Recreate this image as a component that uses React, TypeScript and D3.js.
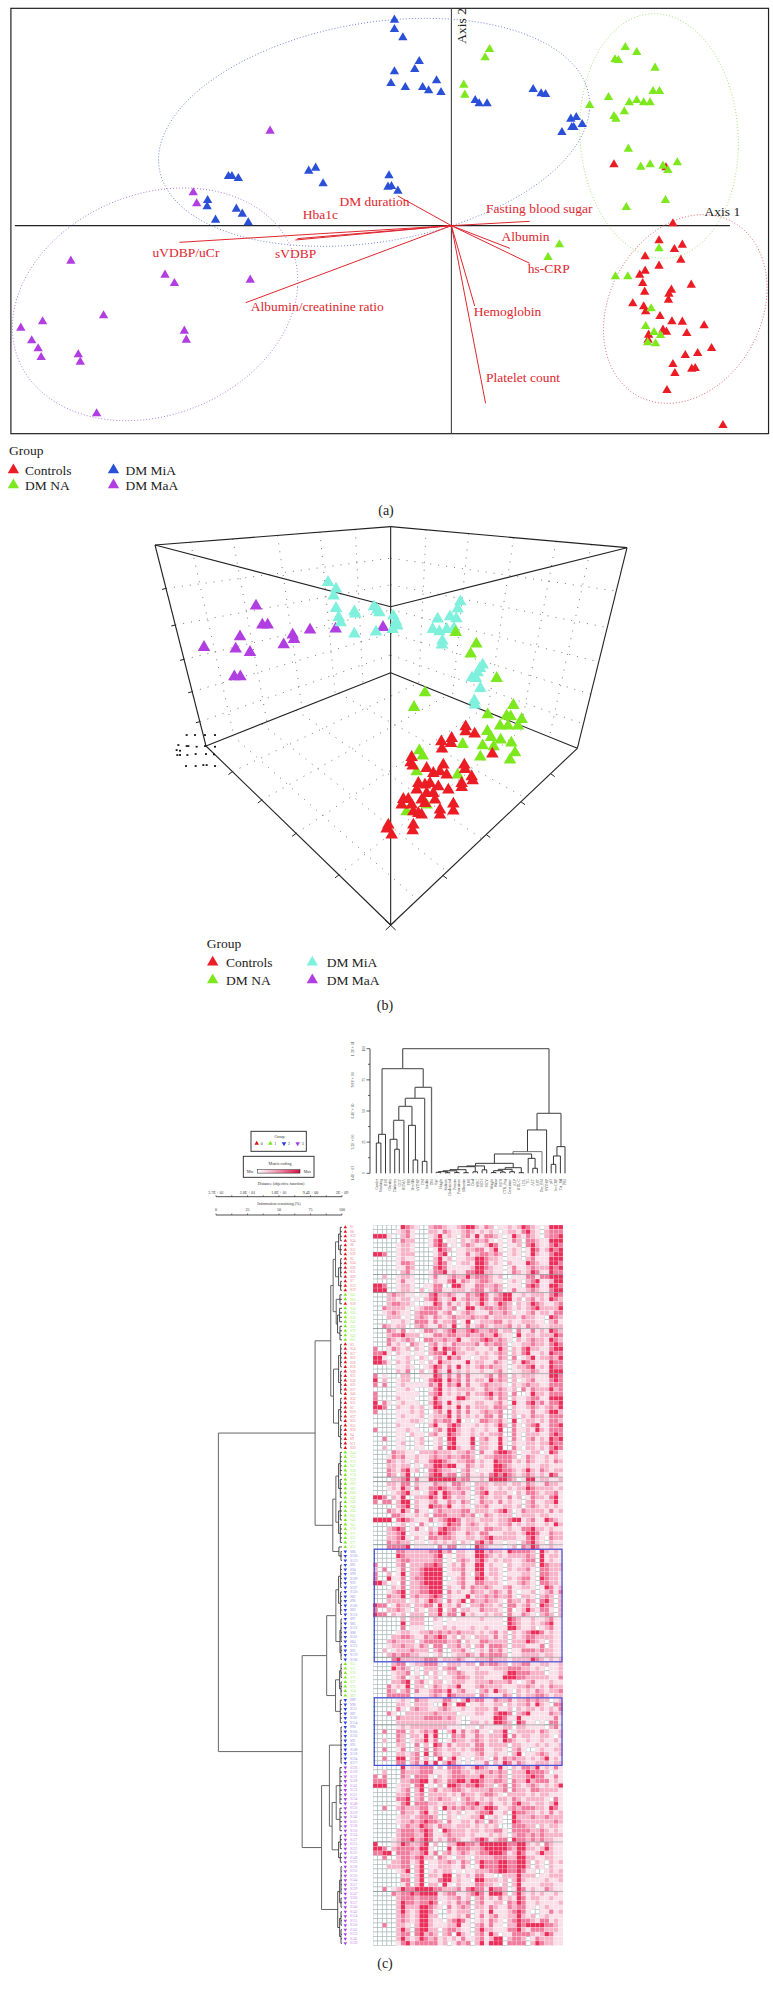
import React from "react";
import * as d3 from "d3";

const SERIF = "'Liberation Serif', serif";
const groupNames = ["Controls", "DM NA", "DM MiA", "DM MaA"];
const colors = { red: "#ec1c24", green: "#7de81e", blue: "#2b50d8", purple: "#b03ee0", cyan: "#7ff0dc" };

// ---- Panel (a): biplot values, in reading units of the plot
const aControls = [[1239,494],[1344,503],[1358,671],[1330,722],[1377,735],[1361,748],[1374,780],[1302,770],[1330,798],[1302,813],[1291,825],[1297,850],[1395,855],[1355,870],[1350,882],[1301,876],[1349,900],[1277,911],[1299,920],[1303,935],[1332,949],[1356,965],[1377,966],[1421,977],[1338,990],[1345,996],[1386,1000],[1309,1005],[1308,1020],[1436,1045],[1408,1060],[1383,1066],[1358,1093],[1396,1107],[1403,1105],[1362,1120],[1346,1171],[1459,1276]];
const aNA = [[988,148],[979,173],[936,255],[938,285],[1262,142],[1285,157],[1241,179],[1248,181],[1322,204],[1318,274],[1331,274],[1228,292],[1285,301],[1270,308],[1299,308],[1312,308],[1190,316],[1260,335],[1239,349],[1243,357],[1268,447],[1293,501],[1312,494],[1338,498],[1348,511],[1367,488],[1343,601],[1264,622],[1129,734],[1106,772],[1330,746],[1242,830],[1267,830],[1314,926],[1303,979],[1320,997],[1333,1006],[1307,1028],[1323,1031]];
const aMiA = [[796,60],[796,88],[813,113],[846,184],[837,208],[796,215],[789,250],[818,262],[853,262],[865,272],[881,242],[890,277],[959,301],[967,311],[983,311],[1076,268],[1092,281],[1101,283],[1152,357],[1163,352],[1175,373],[1154,382],[1158,382],[1134,397],[461,529],[468,529],[481,535],[623,513],[637,504],[652,551],[785,527],[783,561],[790,559],[803,573],[419,601],[418,620],[477,627],[489,642],[435,660],[501,668]];
const aMaA = [[545,393],[390,578],[397,611],[143,783],[333,825],[352,850],[505,840],[209,947],[86,965],[42,984],[372,993],[376,1020],[64,1022],[77,1046],[83,1072],[158,1064],[162,1086],[195,1241]];
const aOrigin = [911, 677];
const vectorNames = ["DM duration","Hba1c","Fasting blood sugar","Albumin","uVDBP/uCr","sVDBP","hs-CRP","Albumin/creatinine ratio","Hemoglobin","Platelet count"];
const vectorEnds = [[803,588],[600,716],[1069,664],[1029,745],[362,727],[596,720],[1069,790],[496,908],[958,918],[980,1210]];
const vectorLabelAt = [[685,618],[611,657],[981,640],[1012,724],[308,771],[555,775],[1065,820],[506,934],[956,947],[981,1145]];
// cx, cy, rx, ry, lean
const aEllipses = [[1383,927,165,283,0.22],[1330,408,160,367,-0.06],[755,397,435,342,0.24],[313,913,288,349,0.2]];
const aEllipseColors = ["#dc5a5a", "#98e268", "#6676cc", "#a86cdc"];

// ---- Panel (b): 3D scatter, in reading units of the picture
const bControls = [[1097,650],[1097,665],[1124,672],[1055,685],[1053,700],[1024,695],[1026,717],[1177,732],[935,742],[932,758],[938,768],[1030,765],[1093,765],[1095,778],[980,775],[1020,785],[1000,790],[1040,795],[1115,800],[1118,812],[1085,820],[1085,832],[955,820],[975,825],[990,820],[1015,830],[1045,840],[950,840],[980,850],[1000,850],[965,870],[1005,870],[910,868],[925,868],[905,885],[935,885],[975,880],[1060,882],[1060,903],[1020,900],[1020,915],[940,905],[955,910],[965,915],[940,945],[938,962],[865,945],[860,957],[875,975]];
const bNA = [[1067,367],[1129,402],[1112,432],[1190,505],[975,548],[942,592],[1240,586],[1163,614],[1220,618],[1232,620],[1265,628],[1200,648],[1224,648],[1254,648],[1162,664],[1173,682],[1202,690],[1088,703],[1148,707],[1181,710],[1234,699],[1245,728],[1230,750],[1141,741],[958,722],[968,738],[950,785],[1073,795],[920,905],[980,885]];
const bMiA = [[684,217],[708,237],[701,258],[708,295],[716,322],[722,338],[763,305],[766,312],[763,372],[822,290],[832,300],[838,308],[828,366],[880,318],[888,335],[892,348],[878,358],[1081,275],[1073,297],[1013,327],[1050,320],[1069,326],[998,358],[1018,365],[1040,358],[1062,355],[1027,393],[1026,405],[1148,465],[1140,475],[1133,488],[1116,503],[1128,505],[1141,535],[1123,572],[1125,585]];
const bMaA = [[468,288],[487,345],[503,345],[420,380],[312,412],[407,417],[450,427],[551,404],[578,375],[582,388],[630,360],[707,357],[849,352],[403,500],[421,500]];
const bSpecks = [[260,675],[285,675],[315,675],[345,675],[235,705],[260,708],[265,708],[290,710],[315,708],[345,710],[230,720],[240,722],[232,735],[240,735],[262,735],[287,732],[318,732],[342,733],[258,768],[287,768],[310,765],[320,765],[345,768]];
const boxTopLeft = [165,105], boxTopMid = [872,50], boxTopRight = [1581,113], boxLidMid = [872,290];
const boxLeft = [318,708], boxBack = [872,488], boxRight = [1432,715], boxFront = [872,1245];
const wallDepthFractions = [0.216,0.398,0.569,0.73,0.879];
const wallWidthFractions = [0.15,0.33,0.52,0.7,0.85];
const floorFractions = [0.143,0.302,0.488,0.72];

// ---- Panel (c): two-way cluster heat map. One digit per cell, 0 (min) to 4 (max)
const heatRows = [
"0000004321 0023321123 4421320112 1243210144 4",
"0000012310 0022132112 3212121012 2134210233 3",
"4441002310 0012412102 3141332101 4213210233 4",
"0000003220 0013401102 1232310101 3203321144 4",
"0000012210 0013430102 3211243101 1203421134 3",
"0000012210 0001432011 2233124101 2101431243 4",
"4430012220 0001340011 3123323201 2101421134 4",
"0000012110 0002412011 2244322101 1102311144 4",
"0000013320 0002431012 2144312102 1114321144 3",
"0000011320 0003431111 1244321101 3112322243 4",
"0000002310 0013341211 3344221101 3212431143 3",
"0020012210 0013112322 4233321200 1113313344 4",
"0000013110 0002113413 2123321101 2102341124 4",
"4430012210 0113300442 1133223201 1103431144 3",
"4440012210 2013311222 1233123201 3112321134 4",
"0002322110 1134223211 3234312344 1121222134 3",
"0002212201 0234212412 3224313344 1202312143 2",
"0002332210 0114313121 3124212432 0212432112 3",
"0032222101 2333312301 4412332332 1212342222 4",
"0012321102 3333123012 3211132232 0112312213 3",
"0002220102 3213212322 2322312222 2132211043 2",
"0000112103 3313122301 4012223312 1122211023 1",
"0032122002 3211321401 3123212223 1213221122 2",
"0003213010 1332123422 3432233122 0311312143 2",
"0002334222 0113323322 3223224211 0412212224 3",
"0003212320 0332232241 1223432321 0212322143 2",
"0003121032 1023121322 2231323320 1122322134 3",
"3001321202 1024143321 2211121420 2134221134 4",
"3341021101 1023341422 1121212320 2134112143 3",
"4410011210 2102314231 1012211320 3012412232 4",
"4431021200 1021422111 4122113210 2143211143 3",
"0000011210 0124313141 2123232210 1223412143 3",
"0000021300 2014214121 2112112310 1122321144 4",
"3010002200 1114313131 3111231320 2122211144 3",
"4020012200 0134414231 3122142320 2012311134 3",
"3030012111 1132413241 3112322210 2123221133 3",
"0000011210 0013412122 2211322321 2031322242 3",
"3000011111 0023412121 3122342320 3001422133 3",
"3000021110 0014211144 2111231320 2112331144 4",
"4031012111 0024314121 1122112310 4113423133 4",
"4430021121 2014412141 3122213320 2112321232 4",
"3000011121 2002314131 3112322300 2111311244 2",
"0000012111 2012224131 2121331300 2021322133 3",
"0000011122 1013233140 1013322310 4012212133 2",
"0000021110 0024113431 1121212420 3102341133 4",
"3000011211 0002314421 1211211400 3112142133 3",
"0000011021 1023114321 1212122300 3102221134 3",
"0030011001 2001204411 1402311410 3102312143 4",
"0000012001 2001203411 1402211410 2112212243 3",
"0020011001 1001304421 1302211400 3102212134 3",
"0000322110 2223222122 3203113443 2011220143 1",
"0001323112 1123223223 3201223333 2013211212 1",
"0003212102 1134432122 3312114333 1213211213 2",
"0002212201 0224434411 3212114432 1112112211 1",
"0003213412 0034322102 3101114433 2124213212 2",
"0003202400 0134423302 3112134343 2123212143 1",
"0000223413 1144444423 3112144443 2014412211 2",
"0002213302 1113221332 1022212221 2213211322 1",
"0001214203 1133432232 2023211212 1224322221 2",
"0000123411 0134143223 1023412221 0213321223 1",
"4430214002 2243143122 1013212213 1201322134 1",
"3033024402 1123113213 2013221312 1102311224 1",
"0000023402 1143324112 1022311122 1202321212 1",
"0003214203 1102322223 3122212342 0132222131 2",
"0000332112 1203332223 2301321222 0122212211 1",
"4444034321 1131234431 2212221223 4412311432 1",
"0000012010 3100124331 2321211223 1212211214 2",
"0002343013 1021343321 2221332212 1133422121 1",
"0002234011 1132443211 3213311122 2124431132 2",
"0002234102 1033233211 2212342222 2113421032 2",
"0003232201 1012121202 1034231101 1023421021 1",
"0003333401 1110313301 0043211101 2032431121 1",
"0000033222 2233423022 1144232214 3333204212 1",
"0000043222 2223401022 1144321212 2223204122 1",
"0000023322 2223301023 2134212122 1123304121 1",
"3000023022 2334301213 1144121102 1122204322 2",
"2030013022 3444401223 1144122102 1223103322 2",
"3002014022 3444401113 1034122101 1122103322 1",
"3004113023 3444400123 1144212102 1233104322 1",
"4420103022 3444401123 1133222101 1232103322 1",
"0000213022 3344402113 1322321123 1122101431 2",
"0001234022 3344403121 1322123213 1011201231 3",
"0003224023 2234302111 4122323223 1022102320 2",
"0002222012 1243203124 0322322103 2213203420 2",
"4330132202 2331412131 0223221203 3123104320 2",
"3002232102 1022402302 2113222103 0124213310 2",
"4330212022 2022413304 1211212203 1132102320 2",
"0000002022 2002101011 1112111104 3211211231 1",
"0000004022 2001101111 1111111104 3211212341 1",
"0000003011 1001121211 1211211114 4211201231 1",
"0000012211 2232323232 2212123120 2123443121 1",
"0000223321 1323431202 1022213120 2123322221 1",
"0002322220 2333332230 2113322220 2224321021 1",
"0001223221 3203302231 2023133320 2221113021 1",
"0020122232 2202300223 1012132310 1133323221 1",
"0002323322 1101200122 3213233320 1122221221 1",
"0000342222 2333122232 1122232221 2222432121 2",
"0000233012 2333102221 2203233220 2233112211 2",
"0000423201 0222023301 1121112223 3322121011 2",
"0000122301 0202102232 1122211124 4333222011 2",
"0000123012 0012011233 2122111144 4332222211 3",
"0000223402 3102201222 1122232223 1012311121 1",
"0003121402 2013212241 1123222211 1223212132 2",
"0003202303 1123324123 1102314221 0212132122 3",
"0003333301 1123214322 2203211132 0212233212 2",
"0000012103 2211133102 4233113223 1223232201 2",
"0000022102 2210042044 0112112202 1223142103 3",
"0000031023 2211232112 1122213112 0212212121 3",
"0003100222 2223222201 1122113443 0234111132 2",
"0000032222 2333323210 0111114431 1411111113 1",
"0000022222 2222222210 0221214432 0431101033 1",
"0000012122 2222221110 1102111122 0221111023 1",
"0030033021 2324002413 1231102240 1222213211 2",
"0000032022 1414000323 1132122240 3122112210 2",
"0020032012 2413001322 1232122143 2112112112 1",
"0000022003 0204313122 2133122220 2211121211 2",
"0030013002 0303212212 1233112210 2310012112 2",
"0000022123 0403211221 1123112110 2401123211 2",
"0030044023 0200402410 1022103132 3221212412 1",
"0000033023 1414024310 1011302143 1321122212 2",
"0000004122 3330203332 1243211410 2133241213 1",
"0020003222 3331112332 2122232320 2224333201 1",
"3030003203 3310212333 2224222320 2223433113 1",
"3330002233 4413213344 2443223320 3224233312 1",
"4440012203 4010204432 3343220230 3212321212 4",
"0000012302 4023122332 1222232230 3221332222 1",
"0000022302 3022221213 2212332102 2221212211 1",
"0000033402 3022322102 3212121221 3212222103 1",
"0000013403 3322122212 3342231121 3422122124 1",
"0030023222 3312042323 2322443112 3233322143 1",
"0000003221 3412002120 1123341120 4332212131 2",
"0000012212 3332002101 1224012100 4222322322 2",
"0000012232 3433203112 2132032100 4322222223 2",
"0000002322 4321322122 2121212000 3332202122 1",
"0000023332 3431043222 1221223310 3333223212 1",
"0000023332 2431123222 1211121210 2332323222 2",
"0000123342 3431213321 1234312330 4332323221 1",
"4000124322 3402002244 3324444443 3442120321 1",
"4430233332 4410004133 3223444443 2442212421 1",
"3344033322 3413023123 2123344431 2431124221 1",
"0030023323 4220321022 1022223332 2442211221 1",
"0000223312 4011223213 2024333443 3442021021 2",
"0002223302 4011222113 1014333443 3442021021 1",
"0000012402 4012122010 1122233443 3431100121 2",
"0000002202 4022144021 2133110022 2422201122 2",
"0000003302 4011344121 1044222120 2421111211 2",
"0000001302 4022041021 1133221020 2411112221 1",
"0030124334 4443322231 3433143320 1431211321 1",
"0000323343 4444123311 2343144420 2421212112 1",
"0000023332 3333112231 2023121312 1431221121 1",
"0000024332 3343012132 3023112203 2431121111 2",
"0000024222 4432103123 2022132113 2331101211 1",
"0000024212 4431002122 2012141112 3431001131 2",
"0000023212 4422001121 3013123112 2421201211 1",
"0000023212 4421102343 1012132102 3433213312 1",
"0030022102 4421112241 1023131102 2434444332 1",
"0000024203 4422023321 1024221113 3421333222 1",
"0000023303 4232023042 1023142011 3333212431 1",
"0000024212 4323121213 1123124402 3320132221 1",
"0000013423 3333120132 3024144403 3330243221 1",
];
const heatColors = ["#ffffff", "#fbdfe8", "#f7b4c8", "#f07c9e", "#ec2f5a"];
const darkRuleRows = [11, 15, 23, 33, 56, 57, 71, 87, 96, 111, 137, 148];
const rowGroups = [[0,14,0],[15,16,1],[17,17,0],[18,25,1],[26,49,0],[50,71,1],[72,96,2],[97,104,1],[105,119,2],[120,159,3]];
const sampleLabels = ["S1","S8","S33","S34","S6","S12","S39","S5","S24","S26","S31","S29","S7","S13","S19","S41","S60","S18","S58","S56","S50","S42","S52","S79","S43","S61","S3","S14","S17","S22","S28","S16","S38","S35","S36","S25","S27","S40","S32","S21","S2","S10","S37","S23","S15","S30","S4","S9","S11","S20","S44","S55","S73","S47","S58","S74","S59","S69","S62","S68","S49","S46","S48","S64","S65","S45","S63","S70","S71","S51","S77","S53","S86","S100","S113","S81","S94","S99","S109","S93","S107","S120","S82","S96","S103","S83","S110","S97","S85","S112","S88","S101","S84","S115","S92","S119","S106","S55","S71","S76","S72","S57","S75","S54","S67","S89","S98","S111","S87","S102","S114","S90","S105","S116","S91","S95","S108","S118","S104","S117","S126","S139","S131","S128","S141","S133","S121","S134","S148","S132","S159","S146","S125","S136","S150","S124","S137","S151","S122","S135","S149","S123","S138","S152","S130","S144","S157","S129","S147","S160","S127","S140","S142","S154","S155","S156","S143","S153","S145","S158"];
const rowMarkColors = ["#e0141c", "#78e81a", "#2b3fd8", "#a43ee0"];
const rowTextColors = ["#f27a80", "#a8ee6c", "#8f92ee", "#c685ee"];
const colLabels = ["Gender","Smoking","BMI","Obesity","Diabetes","GGT","HOMA","FBS","McrAlb","uVDBP","DM","Insulin","DBI","Age","Height","Sodium","Cholesterol","Protein","Potassium","Albumin","RBS","Chol","WBC","MCH","MCV","Weight","Waist","BUN","CTR_Avg","Creatinine","ALP","HDL-C","LDL","TG","ALT","AST","Dur_BM","SVDBP","pH","hs-CRP","Tot_Bil","PRI"];

type T = { d: number; c?: T[]; row?: number; col?: number };
const N = (d: number, ...c: T[]): T => ({ d, c });
const R = (a: number, b: number, d: number): T => ({ d, c: d3.range(a, b + 1).map((r) => ({ d: 0, row: r })) });
const L = (col: number): T => ({ d: 0, col });
const P = (d: number, a: number, b: number): T => N(d, L(a), L(b));

const rowTree = N(36.3,
  N(7.9,
    N(3.3,
      N(2.6,
        N(1.9, N(1, R(0,3,0.5), R(4,6,0.5)), N(1, R(7,11,0.4), R(12,14,0.4))),
        N(1.7, R(15,17,0.6), N(1.3, R(18,21,0.7), R(22,25,0.6)))),
      N(2.5, N(1, R(26,31,0.4), R(32,37,0.4)), N(1, R(38,43,0.4), R(44,49,0.4)))),
    N(2.7,
      N(1.8, N(1, R(50,55,0.5), R(56,60,0.5)), N(1, R(61,65,0.5), R(66,70,0.5))),
      N(0.9, R(71,71,0), R(72,74,0.3)))),
  N(11.7,
    N(4.5,
      N(1.8, N(1, R(75,80,0.4), R(81,86,0.4)), N(0.6, R(87,92,0.3), R(93,96,0.3))),
      N(1.9, N(0.7, R(97,100,0.3), R(101,104,0.3)), R(105,110,0.5))),
    N(6,
      N(3.7, R(111,119,0.3),
        N(2.9, N(1.7, R(120,128,0.6), R(129,134,0.6)), N(1, R(135,138,0.5), R(139,141,0.5)))),
      N(1.26, N(0.7, R(142,148,0.3), R(149,151,0.3)), N(0.7, R(152,155,0.3), R(156,159,0.3))))));

const colTree = N(100,
  N(84,
    N(31.3, P(24.3,0,1), L(2)),
    N(69,
      N(60.2,
        N(53.7,
          N(42.5, N(27.3, L(3), P(19.3,4,5)), L(6)),
          N(38.5, L(7), P(10.7,8,9))),
        P(9.6,10,11)),
      L(12))),
  N(48.1,
    N(34.8,
      N(17.4,
        N(15.5,
          N(8,
            N(5.9,
              N(5.3, N(2.9, N(2, N(1.3, P(0.8,13,14), P(0.5,15,16)), P(0.6,17,18)), P(0.5,19,20)), P(1.2,21,22)),
              P(2.8,23,24)),
            N(4.5, N(3.2, N(2.1, P(0.6,25,26), P(1,27,28)), P(1.3,29,30)), P(0.5,31,32))),
          N(12, L(33), P(4,34,35))),
        L(36)),
      L(37)),
    N(21.4, N(13.9, P(7.2,38,39), L(40)), L(41))));

const groupBoxLabels = ["0", "1", "2", "3"];
const distanceTicks = ["3.7E + 01", "2.8E + 01", "1.8E + 01", "9.4E + 00", "2E − 09"];
const infoTicks = ["0", "25", "50", "75", "100"];
const colAxisPercent = ["100", "75", "50", "25", "0"];
const colAxisDistance = ["1.3E + 01", "9.8E + 00", "6.4E + 00", "3.2E + 00", "1.4E − 03"];

// ---- Scales
const ax = d3.scaleLinear().domain([0, 1560]).range([0, 773]);
const ay = d3.scaleLinear().domain([0, 1560]).range([0, 520]);
const bx = d3.scaleLinear().domain([0, 1560]).range([100, 620]);
const by = d3.scaleLinear().domain([0, 1500]).range([510, 1010]);
const rowY = d3.scaleBand<number>().domain(d3.range(160)).range([1225, 1945.5]);
const colX = d3.scaleBand<number>().domain(d3.range(41)).range([373, 563]);
const leafX = d3.scalePoint<number>().domain(d3.range(42)).range([376.3, 565]);
const treeX = d3.scaleLinear().domain([37, 0]).range([216, 342]);
const treeY = d3.scaleLinear().domain([0, 100]).range([1173.3, 1048.7]);
const infoX = d3.scaleLinear().domain([0, 100]).range([216, 342]);

const tri = (area: number) => d3.symbol().type(d3.symbolTriangle).size(area)() as string;
const rowColor = (r: number) => rowGroups.find((g) => r >= g[0] && r <= g[1])![2];

function ellipsePath([cx, cy, rx, ry, lean]: number[]) {
  const phi = -Math.asin(lean);
  const pts = d3.range(0, 2 * Math.PI, 0.05).map((t) => [ax(cx + rx * Math.cos(t)), ay(cy + ry * Math.sin(t + phi))] as [number, number]);
  return d3.line().curve(d3.curveCardinalClosed)(pts) as string;
}

const lerp = (a: number[], b: number[], t: number) => [a[0] + (b[0] - a[0]) * t, a[1] + (b[1] - a[1]) * t];
function gridSegments(p00: number[], p10: number[], p11: number[], p01: number[], us: number[], vs: number[]) {
  const segs: number[][][] = [];
  us.forEach((u) => segs.push([lerp(p00, p10, u), lerp(p01, p11, u)]));
  vs.forEach((v) => segs.push([lerp(p00, p01, v), lerp(p10, p11, v)]));
  return segs;
}

function rowTreeSegments() {
  const root = d3.hierarchy<T>(rowTree, (d) => d.c);
  const y = new Map<any, number>();
  root.eachAfter((n) => {
    if (n.data.row !== undefined) y.set(n, rowY(n.data.row)! + rowY.bandwidth() / 2);
    else y.set(n, (y.get(n.children![0])! + y.get(n.children![n.children!.length - 1])!) / 2);
  });
  const out: { x1: number; y1: number; x2: number; y2: number; d: number }[] = [];
  root.each((n) => {
    if (!n.children) return;
    const x = treeX(n.data.d);
    out.push({ x1: x, x2: x, y1: y.get(n.children[0])!, y2: y.get(n.children[n.children.length - 1])!, d: n.data.d });
    n.children.forEach((c) => out.push({ x1: x, x2: treeX(c.data.d), y1: y.get(c)!, y2: y.get(c)!, d: n.data.d }));
  });
  return out;
}

function colTreeSegments() {
  const root = d3.hierarchy<T>(colTree, (d) => d.c);
  const x = new Map<any, number>();
  root.eachAfter((n) => {
    if (n.data.col !== undefined) x.set(n, leafX(n.data.col)!);
    else x.set(n, (x.get(n.children![0])! + x.get(n.children![n.children!.length - 1])!) / 2);
  });
  const out: { x1: number; y1: number; x2: number; y2: number; d: number }[] = [];
  root.each((n) => {
    if (!n.children) return;
    const y = treeY(n.data.d);
    out.push({ x1: x.get(n.children[0])!, x2: x.get(n.children[n.children.length - 1])!, y1: y, y2: y, d: n.data.d });
    n.children.forEach((c) => out.push({ x1: x.get(c)!, x2: x.get(c)!, y1: y, y2: treeY(c.data.d), d: n.data.d }));
  });
  return out;
}

function Legend({ x0, x1, tx0, tx1, y0, y1, titleX, titleY, cols }: any) {
  const pos = [[x0, y0, tx0], [x0, y1, tx0], [x1, y0, tx1], [x1, y1, tx1]];
  return (
    <g fontFamily={SERIF} fontSize={13.5} fill="#222">
      <text x={titleX} y={titleY}>Group</text>
      {groupNames.map((g, i) => (
        <g key={g}>
          <path d={tri(56)} transform={`translate(${pos[i][0]},${pos[i][1]})`} fill={cols[i]} />
          <text x={pos[i][2]} y={pos[i][1] + 4.5}>{g}</text>
        </g>
      ))}
    </g>
  );
}

export default function App() {
  const aGroups: [number[][], string][] = [[aControls, colors.red], [aNA, colors.green], [aMiA, colors.blue], [aMaA, colors.purple]];
  const bGroups: [number[][], string][] = [[bMaA, colors.purple], [bMiA, colors.cyan], [bNA, colors.green], [bControls, colors.red]];
  const walls = [
    ...gridSegments(boxTopLeft, boxTopMid, boxBack, boxLeft, wallWidthFractions, wallDepthFractions),
    ...gridSegments(boxTopMid, boxTopRight, boxRight, boxBack, wallWidthFractions, wallDepthFractions),
    ...gridSegments(boxLeft, boxFront, boxRight, boxBack, floorFractions, floorFractions),
  ];
  const boxEdges = [[boxTopLeft, boxTopMid], [boxTopMid, boxTopRight], [boxTopLeft, boxLidMid], [boxLidMid, boxTopRight], [boxTopMid, boxFront], [boxTopLeft, boxLeft], [boxTopRight, boxRight], [boxLeft, boxBack], [boxBack, boxRight], [boxLeft, boxFront], [boxRight, boxFront]];
  const rows = heatRows.map((r) => r.replace(/ /g, ""));
  const distX = d3.scalePoint<string>().domain(distanceTicks).range([216, 342]);
  const colAxisY = d3.scalePoint<string>().domain(colAxisPercent).range([1048.7, 1173.3]);

  return (
    <svg width={773} height={1990} style={{ position: "absolute", left: 0, top: 0, background: "#fff" }}>
      <defs>
        <filter id="soft" x="0" y="0" width="100%" height="100%">
          <feGaussianBlur stdDeviation="0.45" />
        </filter>
        <linearGradient id="code">
          <stop offset="0" stopColor="#ffffff" />
          <stop offset="0.5" stopColor="#f28fad" />
          <stop offset="1" stopColor="#d80f3e" />
        </linearGradient>
      </defs>
      {/* Panel a */}
      <rect x={ax(22)} y={ay(25)} width={ax(1551) - ax(22)} height={ay(1301) - ay(25)} fill="none" stroke="#222" strokeWidth={1.2} />
      <line x1={ax(30)} x2={ax(1473)} y1={ay(aOrigin[1])} y2={ay(aOrigin[1])} stroke="#222" strokeWidth={1.1} />
      <line x1={ax(aOrigin[0])} x2={ax(aOrigin[0])} y1={ay(25)} y2={ay(1301)} stroke="#444" strokeWidth={1.1} />
      {aEllipses.map((e, i) => (
        <path key={i} d={ellipsePath(e)} fill="none" stroke={aEllipseColors[i]} strokeWidth={0.9} strokeDasharray="1 2" />
      ))}
      {vectorEnds.map((e, i) => (
        <line key={i} x1={ax(aOrigin[0])} y1={ay(aOrigin[1])} x2={ax(e[0])} y2={ay(e[1])} stroke="#e0262e" strokeWidth={1} />
      ))}
      {aGroups.map(([pts, c], i) =>
        pts.map((p, j) => <path key={`${i}-${j}`} d={tri(38)} transform={`translate(${ax(p[0])},${ay(p[1])})`} fill={c} />)
      )}
      <g fontFamily={SERIF} fontSize={13.5} fill="#e0262e">
        {vectorNames.map((n, i) => (
          <text key={n} x={ax(vectorLabelAt[i][0])} y={ay(vectorLabelAt[i][1])}>{n}</text>
        ))}
      </g>
      <g fontFamily={SERIF} fontSize={13.5} fill="#222">
        <text x={ax(1422)} y={ay(647)}>Axis 1</text>
        <text transform={`translate(${ax(940)},${ay(131)}) rotate(-90)`}>Axis 2</text>
      </g>
      <Legend x0={13.4} x1={113.5} tx0={25} tx1={125.4} y0={470} y1={485} titleX={9} titleY={455} cols={[colors.red, colors.green, colors.blue, colors.purple]} />
      <text x={386} y={515} textAnchor="middle" fontFamily={SERIF} fontSize={14} fill="#222">(a)</text>

      {/* Panel b */}
      {walls.map((s, i) => (
        <line key={i} x1={bx(s[0][0])} y1={by(s[0][1])} x2={bx(s[1][0])} y2={by(s[1][1])} stroke="#555" strokeWidth={0.8} strokeDasharray="1 7" />
      ))}
      {boxEdges.map((s, i) => (
        <line key={i} x1={bx(s[0][0])} y1={by(s[0][1])} x2={bx(s[1][0])} y2={by(s[1][1])} stroke="#222" strokeWidth={1.1} />
      ))}
      {wallDepthFractions.map((f) => {
        const p = lerp(boxTopLeft, boxLeft, f);
        return <line key={f} x1={bx(p[0] - 12)} x2={bx(p[0])} y1={by(p[1] + 3)} y2={by(p[1])} stroke="#222" strokeWidth={1} />;
      })}
      {floorFractions.map((f) => {
        const a = lerp(boxLeft, boxFront, f);
        const b = lerp(boxRight, boxFront, f);
        return (
          <g key={f} stroke="#222" strokeWidth={1}>
            <line x1={bx(a[0] - 12)} x2={bx(a[0])} y1={by(a[1] + 9)} y2={by(a[1])} />
            <line x1={bx(b[0])} x2={bx(b[0] + 12)} y1={by(b[1])} y2={by(b[1] + 9)} />
          </g>
        );
      })}
      <line x1={bx(boxFront[0] + 17)} x2={bx(boxFront[0] - 15)} y1={by(boxFront[1] - 15)} y2={by(boxFront[1] + 15)} stroke="#222" strokeWidth={1} />
      <line x1={bx(boxFront[0] - 17)} x2={bx(boxFront[0] + 15)} y1={by(boxFront[1] - 15)} y2={by(boxFront[1] + 15)} stroke="#222" strokeWidth={1} />
      {bSpecks.map((p, i) => (
        <rect key={i} x={bx(p[0]) - 1} y={by(p[1]) - 0.8} width={2} height={1.7} fill="#111" />
      ))}
      {bGroups.map(([pts, c], i) =>
        pts.map((p, j) => <path key={`${i}-${j}`} d={tri(68)} transform={`translate(${bx(p[0])},${by(p[1])})`} fill={c} />)
      )}
      <Legend x0={212.7} x1={312.3} tx0={226} tx1={326.7} y0={962.3} y1={980} titleX={206.7} titleY={948} cols={[colors.red, colors.green, colors.cyan, colors.purple]} />
      <text x={385} y={1010} textAnchor="middle" fontFamily={SERIF} fontSize={14} fill="#222">(b)</text>

      {/* Panel c: heat map */}
      <g filter="url(#soft)">
        {rows.map((r, i) =>
          r.split("").map((v, j) =>
            v === "0" ? (
              <rect key={`${i}-${j}`} x={colX(j)} y={rowY(i)} width={colX.bandwidth()} height={rowY.bandwidth()} fill="#fff" stroke="#a9b8b8" strokeWidth={0.6} />
            ) : null
          )
        )}
        {rows.map((r, i) =>
          r.split("").map((v, j) =>
            v !== "0" ? (
              <rect key={`${i}-${j}`} x={colX(j)} y={rowY(i)} width={colX.bandwidth()} height={rowY.bandwidth()} fill={heatColors[+v]} stroke="#fff" strokeOpacity={0.4} strokeWidth={0.4} />
            ) : null
          )
        )}
        {darkRuleRows.map((r) => (
          <line key={r} x1={373} x2={563} y1={rowY(r)} y2={rowY(r)} stroke="#6f7f80" strokeOpacity={0.75} strokeWidth={0.7} />
        ))}
      </g>
      <rect x={374.3} y={rowY(72)} width={187.7} height={rowY(97)! - rowY(72)!} fill="none" stroke="#3f4fd8" strokeWidth={1.2} />
      <rect x={374.3} y={rowY(105)} width={187.7} height={rowY(120)! - rowY(105)!} fill="none" stroke="#3f4fd8" strokeWidth={1.2} />
      {/* row tree, marks and labels */}
      {rowTreeSegments().map((s, i) => (
        <line key={i} x1={s.x1} x2={s.x2} y1={s.y1} y2={s.y2} stroke={s.d > 1.5 ? "#666" : "#222"} strokeWidth={s.d > 1.5 ? 1 : 0.8} />
      ))}
      {rows.map((_, i) => {
        const g = rowColor(i);
        const y = rowY(i)! + rowY.bandwidth() / 2;
        return (
          <g key={i}>
            <path d={tri(5.5)} transform={`translate(345.3,${y}) rotate(${g > 1 ? 180 : 0})`} fill={rowMarkColors[g]} />
            <text x={350} y={y + 1.2} fontFamily={SERIF} fontSize={3.6} fill={rowTextColors[g]}>{sampleLabels[i]}</text>
          </g>
        );
      })}
      {/* column tree */}
      {colTreeSegments().map((s, i) => (
        <line key={i} x1={s.x1} x2={s.x2} y1={s.y1} y2={s.y2} stroke={s.d > 40 || s.d === 17.4 ? "#666" : "#222"} strokeWidth={s.d > 40 ? 1.3 : 0.9} />
      ))}
      {colLabels.map((l, i) => (
        <text key={l} transform={`translate(${leafX(i)! + 1.2},1179) rotate(-90)`} textAnchor="end" fontFamily={SERIF} fontSize={3.7} fill="#444">{l}</text>
      ))}
      <line x1={370} x2={370} y1={1048.7} y2={1173.3} stroke="#222" strokeWidth={0.8} />
      {d3.range(0, 101, 12.5).map((t) => (
        <line key={t} x1={t % 25 === 0 ? 366.5 : 368} x2={370} y1={treeY(t)} y2={treeY(t)} stroke="#222" strokeWidth={0.7} />
      ))}
      {colAxisPercent.map((l, i) => (
        <g key={l} fontFamily={SERIF} fontSize={3.8} fill="#444" textAnchor="middle">
          <text transform={`translate(365,${colAxisY(l)}) rotate(-90)`}>{l}</text>
          <text transform={`translate(354,${colAxisY(l)}) rotate(-90)`}>{colAxisDistance[i]}</text>
        </g>
      ))}
      {/* legend boxes */}
      <g fontFamily={SERIF} fontSize={4} fill="#333" textAnchor="middle">
        <rect x={251} y={1131.3} width={55.3} height={20} fill="#fff" stroke="#222" strokeWidth={0.9} />
        <text x={279.5} y={1137.8}>Group</text>
        {groupBoxLabels.map((g, i) => {
          const x = 256.7 + i * 13.65;
          return (
            <g key={g}>
              <path d={tri(9)} transform={`translate(${x},1143.5) rotate(${i > 1 ? 180 : 0})`} fill={rowMarkColors[i]} />
              <text x={x + 5} y={1144.8}>{g}</text>
            </g>
          );
        })}
        <rect x={243.3} y={1156.3} width={70.7} height={21} fill="#fff" stroke="#222" strokeWidth={0.9} />
        <text x={280} y={1164.5}>Matrix coding</text>
        <text x={250} y={1173}>Min</text>
        <text x={307.3} y={1173}>Max</text>
        <rect x={257.3} y={1169.7} width={42.7} height={3.4} fill="url(#code)" stroke="#222" strokeWidth={0.5} />
        <text x={281} y={1185}>Distance (objective function)</text>
        {distanceTicks.map((t) => (
          <text key={t} x={distX(t)} y={1193.5}>{t}</text>
        ))}
        <line x1={216} x2={342} y1={1196.7} y2={1196.7} stroke="#222" strokeWidth={0.8} />
        <text x={279} y={1204.6}>Information remaining (%)</text>
        {infoTicks.map((t) => (
          <text key={t} x={infoX(+t)} y={1211.4}>{t}</text>
        ))}
        <line x1={216} x2={342} y1={1215} y2={1215} stroke="#222" strokeWidth={0.8} />
        {d3.range(0, 101, 12.5).map((t) => (
          <g key={t} stroke="#222" strokeWidth={0.6}>
            <line x1={infoX(t)} x2={infoX(t)} y1={1195.2} y2={1196.7} />
            <line x1={infoX(t)} x2={infoX(t)} y1={1213.5} y2={1215} />
          </g>
        ))}
      </g>
      <text x={385} y={1968} textAnchor="middle" fontFamily={SERIF} fontSize={14} fill="#222">(c)</text>
    </svg>
  );
}
